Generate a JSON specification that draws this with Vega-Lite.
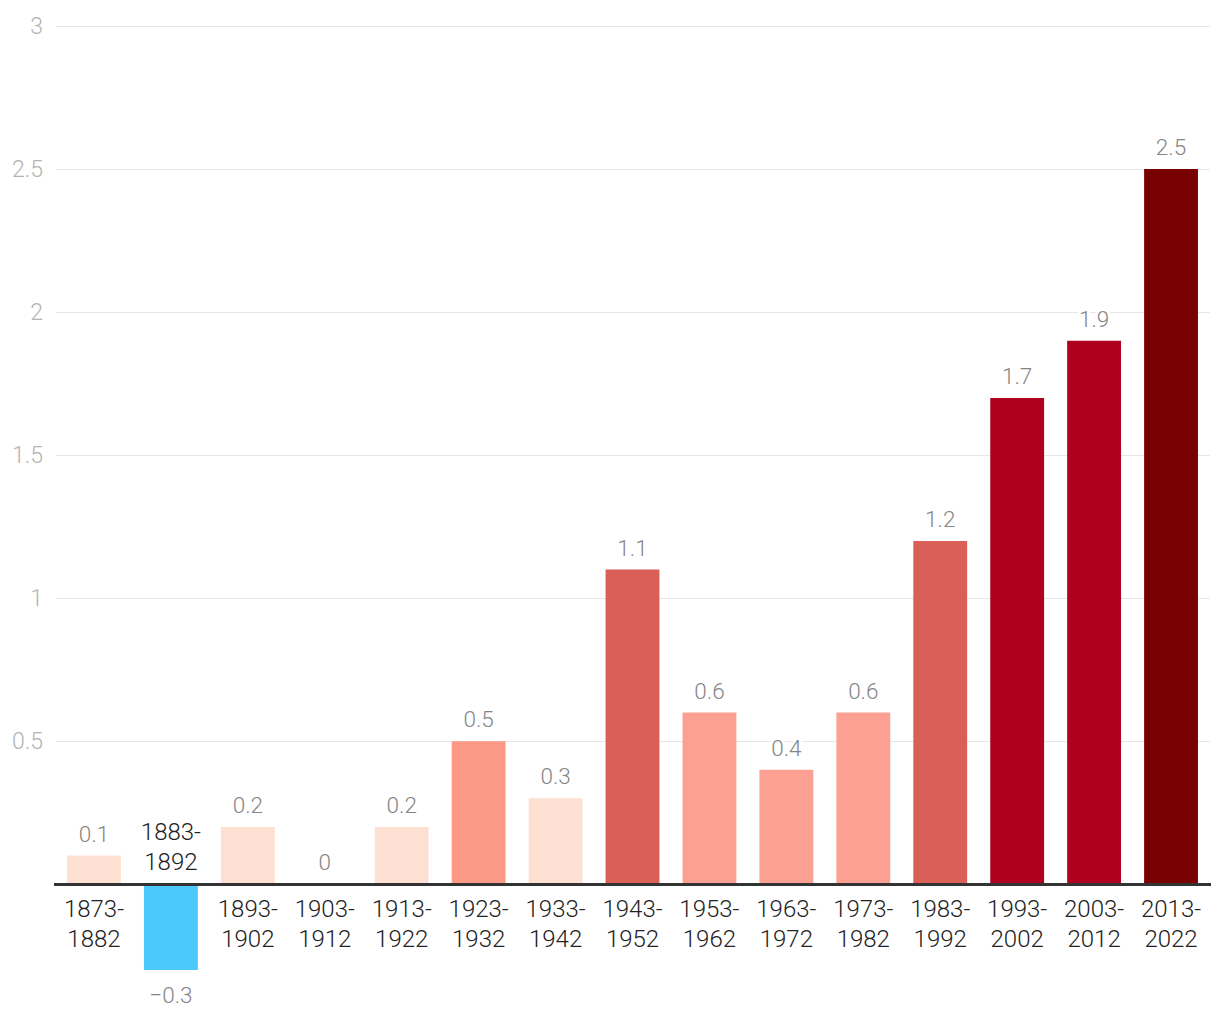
{
  "$schema": "https://vega.github.io/schema/vega-lite/v6.json",
  "width": 1154,
  "height": 944,
  "autosize": {"type": "none"},
  "padding": {"left": 55.5, "top": 26, "right": 10.5, "bottom": 50},
  "background": "white",
  "config": {"view": {"stroke": null}, "font": "Roboto"},
  "data": {
    "values": [
      {"period": "1873-\n1882", "value": 0.1, "group": "low"},
      {"period": "1883-\n1892", "value": -0.3, "group": "neg"},
      {"period": "1893-\n1902", "value": 0.2, "group": "low"},
      {"period": "1903-\n1912", "value": 0, "group": "low"},
      {"period": "1913-\n1922", "value": 0.2, "group": "low"},
      {"period": "1923-\n1932", "value": 0.5, "group": "mid1"},
      {"period": "1933-\n1942", "value": 0.3, "group": "low"},
      {"period": "1943-\n1952", "value": 1.1, "group": "high"},
      {"period": "1953-\n1962", "value": 0.6, "group": "mid2"},
      {"period": "1963-\n1972", "value": 0.4, "group": "mid2"},
      {"period": "1973-\n1982", "value": 0.6, "group": "mid2"},
      {"period": "1983-\n1992", "value": 1.2, "group": "high"},
      {"period": "1993-\n2002", "value": 1.7, "group": "vhigh"},
      {"period": "2003-\n2012", "value": 1.9, "group": "vhigh"},
      {"period": "2013-\n2022", "value": 2.5, "group": "top"}
    ]
  },
  "encoding": {
    "x": {"field": "period", "type": "nominal", "sort": null, "axis": null,
          "scale": {"paddingInner": 0.3, "paddingOuter": 0.15}}
  },
  "layer": [
    {
      "mark": {"type": "bar"},
      "encoding": {
        "y": {"field": "value", "type": "quantitative",
              "scale": {"domain": [-0.3, 3], "nice": false, "zero": false},
              "axis": {"values": [0.5, 1, 1.5, 2, 2.5, 3], "title": null, "domain": false, "ticks": false,
                       "labelPadding": 13, "labelFontSize": 23, "labelColor": "#b3b3b3", "labelFont": "Roboto",
                       "labelFontWeight": 300, "gridColor": "#e6e6e6", "gridWidth": 1.2, "format": "~g"}},
        "color": {"field": "group", "type": "nominal", "legend": null,
                  "scale": {"domain": ["neg", "low", "mid1", "mid2", "high", "vhigh", "top"],
                            "range": ["#4CC9FC", "#FEE0D2", "#FC9886", "#FCA093", "#D95F57", "#B0001F", "#780000"]}}
      }
    },
    {
      "mark": {"type": "rule", "color": "#333333", "strokeWidth": 2.5},
      "encoding": {"y": {"datum": 0, "type": "quantitative"}, "x": {"value": -1}, "x2": {"value": 1155}}
    },
    {
      "transform": [{"filter": "datum.value >= 0"}],
      "mark": {"type": "text", "baseline": "alphabetic", "dy": -14, "fontSize": 22.5, "fontWeight": 300,
               "stroke": "white", "strokeWidth": 6, "fill": "white"},
      "encoding": {"y": {"field": "value", "type": "quantitative"}, "text": {"field": "value", "format": "~g"}}
    },
    {
      "transform": [{"filter": "datum.value >= 0"}],
      "mark": {"type": "text", "baseline": "alphabetic", "dy": -14, "fontSize": 22.5, "fontWeight": 300, "color": "#858585"},
      "encoding": {"y": {"field": "value", "type": "quantitative"}, "text": {"field": "value", "format": "~g"}}
    },
    {
      "transform": [{"filter": "datum.value < 0"}],
      "mark": {"type": "text", "baseline": "top", "dy": 15, "fontSize": 22.5, "fontWeight": 300, "color": "#858585"},
      "encoding": {"y": {"field": "value", "type": "quantitative"}, "text": {"field": "value", "format": "~g"}}
    },
    {
      "transform": [{"filter": "datum.value >= 0"}],
      "mark": {"type": "text", "baseline": "top", "dy": 14, "fontSize": 24, "fontWeight": 300, "lineBreak": "\n", "lineHeight": 30, "color": "#222222"},
      "encoding": {"y": {"datum": 0, "type": "quantitative"}, "text": {"field": "period"}}
    },
    {
      "transform": [{"filter": "datum.value < 0"}],
      "mark": {"type": "text", "baseline": "alphabetic", "dy": -44, "fontSize": 24, "fontWeight": 300, "lineBreak": "\n", "lineHeight": 30, "color": "#222222"},
      "encoding": {"y": {"datum": 0, "type": "quantitative"}, "text": {"field": "period"}}
    }
  ]
}
